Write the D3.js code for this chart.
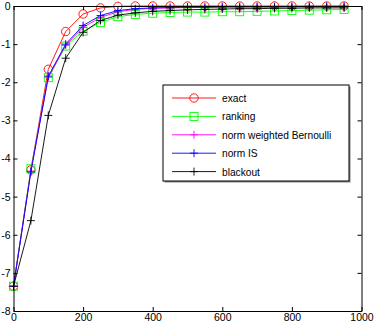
<!DOCTYPE html>
<html>
<head>
<meta charset="utf-8">
<script src="https://cdn.jsdelivr.net/npm/d3@7"></script>
<style>
  body { margin: 0; background: #fff; }
  text { font-family: "Liberation Sans", Arial, sans-serif; }
</style>
</head>
<body>
<svg id="chart" width="374" height="325"></svg>
<script>
const xs = [0, 50, 100, 150, 200, 250, 300, 350, 400, 450, 500, 550, 600, 650, 700, 750, 800, 850, 900, 950];
const exact = [-7.35, -4.3, -1.66, -0.67, -0.21, -0.05, -0.01, 0, 0, 0, 0, 0, 0, 0, 0, 0, 0, 0, 0, 0];
const ranking = [-7.35, -4.27, -1.88, -1.05, -0.66, -0.43, -0.28, -0.22, -0.19, -0.17, -0.16, -0.16, -0.15, -0.15, -0.14, -0.13, -0.12, -0.11, -0.1, -0.09];
const normWB = [-7.35, -4.33, -1.87, -1.03, -0.56, -0.3, -0.15, -0.09, -0.06, -0.05, -0.04, -0.04, -0.03, -0.03, -0.03, -0.03, -0.02, -0.02, -0.02, -0.02];
const normIS = [-7.35, -4.35, -1.84, -1.0, -0.51, -0.25, -0.12, -0.07, -0.05, -0.04, -0.03, -0.03, -0.02, -0.02, -0.02, -0.02, -0.02, -0.01, -0.01, -0.01];
const blackout = [-7.35, -5.63, -2.87, -1.37, -0.69, -0.38, -0.24, -0.18, -0.14, -0.12, -0.1, -0.09, -0.08, -0.07, -0.07, -0.06, -0.06, -0.05, -0.05, -0.05];
const xTicks = [0, 200, 400, 600, 800, 1000];
const yTicks = [0, -1, -2, -3, -4, -5, -6, -7, -8];

const series = [
  { name: "exact", values: exact, color: "#ff0000", marker: "circle" },
  { name: "ranking", values: ranking, color: "#00ff00", marker: "square" },
  { name: "norm weighted Bernoulli", values: normWB, color: "#ff00ff", marker: "plus" },
  { name: "norm IS", values: normIS, color: "#0000ff", marker: "plus" },
  { name: "blackout", values: blackout, color: "#000000", marker: "plus" },
];

const svg = d3.select("#chart");
const m = { left: 13.5, right: 361.5, top: 6, bottom: 311 };
const x = d3.scaleLinear().domain([0, 1000]).range([m.left, m.right]);
const y = d3.scaleLinear().domain([-8, 0]).range([m.bottom, m.top]);

// series
const line = d3.line().x((d, i) => x(xs[i])).y(d => y(d));

function drawMarker(g, type, cx, cy, color) {
  if (type === "circle") {
    g.append("circle").attr("cx", cx).attr("cy", cy).attr("r", 4.2)
      .attr("fill", "none").attr("stroke", color).attr("stroke-width", 0.9);
  } else if (type === "square") {
    g.append("rect").attr("x", cx - 4).attr("y", cy - 4).attr("width", 8).attr("height", 8)
      .attr("fill", "none").attr("stroke", color).attr("stroke-width", 0.9);
  } else {
    g.append("path").attr("d", `M${cx - 4},${cy}H${cx + 4}M${cx},${cy - 4}V${cy + 4}`)
      .attr("stroke", color).attr("stroke-width", 0.9);
  }
}

const plot = svg.append("g");
series.forEach(s => {
  const g = plot.append("g");
  g.append("path").attr("d", line(s.values)).attr("fill", "none")
    .attr("stroke", s.color).attr("stroke-width", 0.9);
  s.values.forEach((v, i) => drawMarker(g, s.marker, x(xs[i]), y(v), s.color));
});

// axes box
const fmt = d => String(d);
const xAxisB = d3.axisBottom(x).tickValues(xTicks).tickSizeInner(-4).tickSizeOuter(0).tickPadding(3).tickFormat(fmt);
const xAxisT = d3.axisTop(x).tickValues(xTicks).tickSizeInner(-4).tickSizeOuter(0).tickFormat("");
const yAxisL = d3.axisLeft(y).tickValues(yTicks).tickSizeInner(-4).tickSizeOuter(0).tickPadding(3).tickFormat(fmt);
const yAxisR = d3.axisRight(y).tickValues(yTicks).tickSizeInner(-4).tickSizeOuter(0).tickFormat("");

function style(g) {
  g.select(".domain").attr("stroke", "#000").attr("stroke-width", 1);
  g.selectAll(".tick line").attr("stroke", "#000");
  g.selectAll(".tick text").attr("font-size", 10.5).attr("fill", "#000");
}
svg.append("g").attr("transform", `translate(0,${m.bottom})`).call(xAxisB).call(style);
svg.append("g").attr("transform", `translate(0,${m.top})`).call(xAxisT).call(style);
svg.append("g").attr("transform", `translate(${m.left},0)`).call(yAxisL).call(style);
svg.append("g").attr("transform", `translate(${m.right},0)`).call(yAxisR).call(style);
svg.selectAll(".tick text").attr("font-family", "'Liberation Sans', Arial, sans-serif");

// legend
const lg = svg.append("g");
const lx = 163, ly = 85, lw = 186, lh = 96;
lg.append("rect").attr("x", lx + 1.5).attr("y", ly + 1.5).attr("width", lw).attr("height", lh)
  .attr("fill", "#888");
lg.append("rect").attr("x", lx).attr("y", ly).attr("width", lw).attr("height", lh)
  .attr("fill", "#fff").attr("stroke", "#000").attr("stroke-width", 1);
series.forEach((s, i) => {
  const yy = ly + 13 + i * 18.4;
  const g = lg.append("g");
  g.append("line").attr("x1", lx + 9).attr("x2", lx + 53).attr("y1", yy).attr("y2", yy)
    .attr("stroke", s.color).attr("stroke-width", 0.9);
  drawMarker(g, s.marker, lx + 31, yy, s.color);
  g.append("text").attr("x", lx + 59).attr("y", yy + 4).attr("font-size", 10.2)
    .attr("fill", "#000").text(s.name);
});
</script>
</body>
</html>
